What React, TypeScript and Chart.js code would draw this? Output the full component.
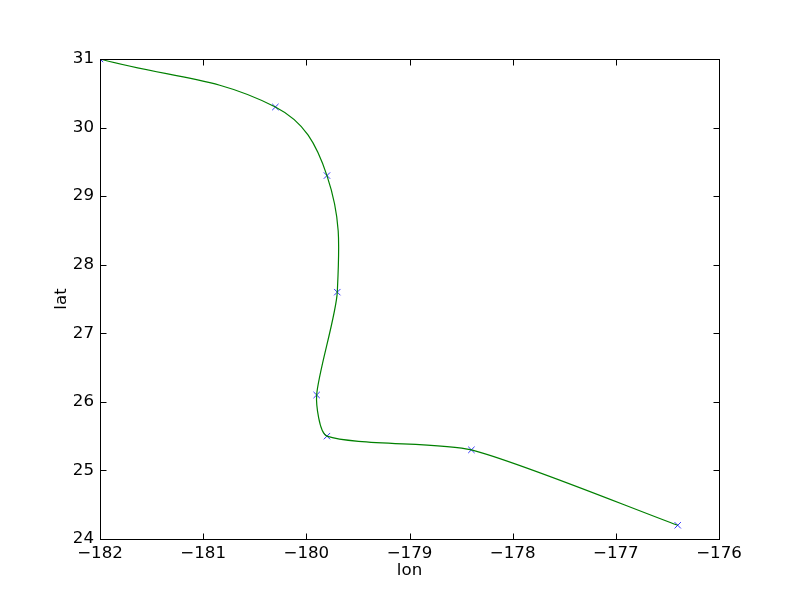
import React, { useEffect, useRef } from "react";
import { Chart, registerables } from "chart.js";

Chart.register(...registerables);

// Track positions (longitude, latitude)
const lonValues = [-182, -180.3, -179.8, -179.7, -179.9, -179.8, -178.4, -176.4];
const latValues = [31, 30.3, 29.3, 27.6, 26.1, 25.5, 25.3, 24.2];

const xTicks = [-182, -181, -180, -179, -178, -177, -176];
const yTicks = [24, 25, 26, 27, 28, 29, 30, 31];

const FONT = "'DejaVu Sans', sans-serif";
const FS = 16.67;
const GREEN = "#008000";

const minus = (v: number) => String(v).replace("-", "\u2212");

const framePlugin = {
  id: "frame",
  afterDatasetsDraw(chart: any) {
    const { ctx, chartArea: a, scales } = chart;
    const L = Math.round(a.left) + 0.5;
    const R = Math.round(a.right) + 0.5;
    const T = Math.round(a.top) + 0.5;
    const B = Math.round(a.bottom) + 0.5;
    const len = 6;
    ctx.save();
    ctx.strokeStyle = "#000";
    ctx.lineWidth = 1;
    ctx.beginPath();
    for (const t of scales.x.ticks) {
      const px = Math.round(scales.x.getPixelForValue(t.value)) + 0.5;
      ctx.moveTo(px, B);
      ctx.lineTo(px, B - len);
      ctx.moveTo(px, T);
      ctx.lineTo(px, T + len);
    }
    for (const t of scales.y.ticks) {
      const py = Math.round(scales.y.getPixelForValue(t.value)) + 0.5;
      ctx.moveTo(L, py);
      ctx.lineTo(L + len, py);
      ctx.moveTo(R, py);
      ctx.lineTo(R - len, py);
    }
    ctx.stroke();
    ctx.strokeRect(L, T, R - L, B - T);
    ctx.restore();
  },
};

export default function App() {
  const ref = useRef<HTMLCanvasElement | null>(null);

  useEffect(() => {
    if (!ref.current) return;
    const points = lonValues.map((x, i) => ({ x, y: latValues[i] }));
    // upper part of the track: points 0..4, segments 0-1, 1-2, 2-3 drawn
    const upper = points.slice(0, 5);
    // lower part: points 2..7, segments from point 3 onward drawn
    const lower = points.slice(2);
    const chart = new Chart(ref.current, {
      type: "scatter",
      data: {
        datasets: [
          {
            label: "track-upper",
            data: upper,
            showLine: true,
            borderColor: GREEN,
            borderWidth: 1.2,
            pointRadius: 0,
            tension: 0.4,
            clip: 0,
            segment: {
              borderColor: (c: any) => (c.p0DataIndex >= 3 ? "rgba(0,0,0,0)" : GREEN),
            },
          } as any,
          {
            label: "track-lower",
            data: lower,
            showLine: true,
            borderColor: GREEN,
            borderWidth: 1.2,
            pointRadius: 0,
            tension: 0.22,
            clip: 0,
            segment: {
              borderColor: (c: any) => (c.p0DataIndex < 1 ? "rgba(0,0,0,0)" : GREEN),
            },
          } as any,
          {
            label: "obs",
            data: points,
            showLine: false,
            pointStyle: "crossRot",
            pointRadius: 4.5,
            borderColor: "#0000ff",
            backgroundColor: "#0000ff",
            pointBorderWidth: 0.8,
            clip: 0,
          } as any,
        ],
      },
      options: {
        responsive: false,
        animation: false,
        events: [],
        layout: { padding: { top: 59, right: 81, left: 0, bottom: 0 } },
        plugins: {
          legend: { display: false },
          tooltip: { enabled: false },
        },
        scales: {
          x: {
            type: "linear",
            min: -182,
            max: -176,
            afterBuildTicks: (s: any) => {
              s.ticks = xTicks.map((v) => ({ value: v }));
            },
            afterFit: (s: any) => {
              s.height = 61;
            },
            grid: { display: false, drawTicks: false },
            border: { display: false },
            ticks: {
              padding: 5,
              color: "#000",
              font: { family: FONT, size: FS },
              callback: (v: any) => minus(Number(v)),
              maxRotation: 0,
            },
            title: {
              display: true,
              text: "lon",
              color: "#000",
              font: { family: FONT, size: FS },
              padding: { top: 0, bottom: 19 },
            },
          },
          y: {
            type: "linear",
            min: 24,
            max: 31,
            afterBuildTicks: (s: any) => {
              s.ticks = yTicks.map((v) => ({ value: v }));
            },
            afterFit: (s: any) => {
              s.width = 100;
            },
            grid: { display: false, drawTicks: false },
            border: { display: false },
            ticks: {
              padding: 6,
              color: "#000",
              font: { family: FONT, size: FS },
              callback: (v: any) => minus(Number(v)),
            },
            title: {
              display: true,
              text: "lat",
              color: "#000",
              font: { family: FONT, size: FS },
              padding: { top: 52, bottom: 0 },
            },
          },
        },
      },
      plugins: [framePlugin],
    });
    return () => chart.destroy();
  }, []);

  return (
    <div style={{ position: "absolute", left: 0, top: 0, width: 800, height: 600, background: "#fff" }}>
      <canvas ref={ref} width={800} height={600} style={{ display: "block" }} />
    </div>
  );
}
